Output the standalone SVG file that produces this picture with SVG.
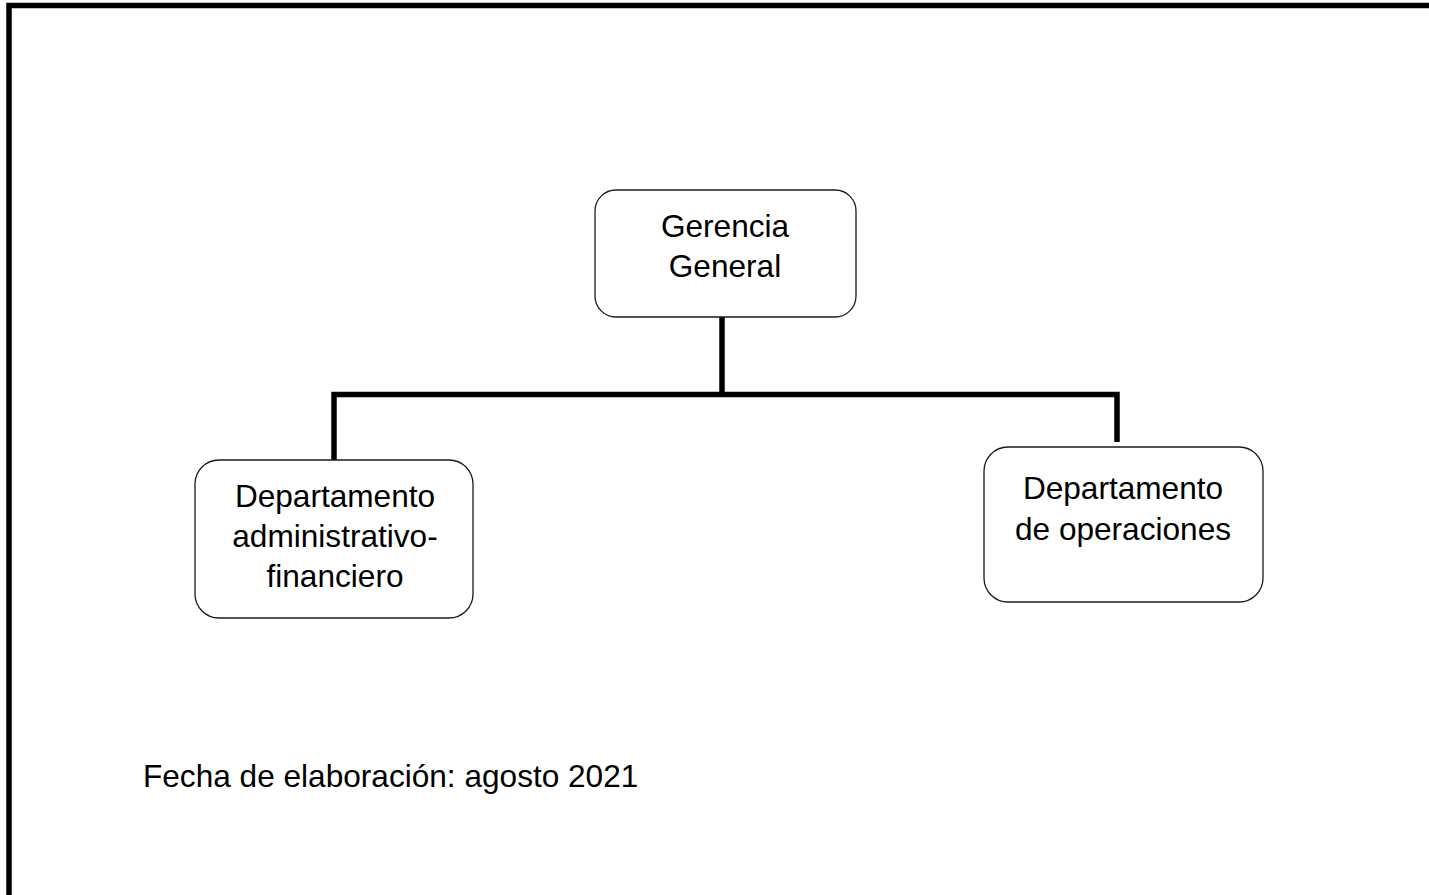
<svg xmlns="http://www.w3.org/2000/svg" width="1429" height="895" viewBox="0 0 1429 895">
<style>
.box{fill:#fff;stroke:#1a1a1a;stroke-width:1.3}
.t{font-family:"Liberation Sans",Arial,sans-serif;font-size:31.6px;fill:#000;text-anchor:middle}
.conn{fill:none;stroke:#000;stroke-width:5.5;stroke-linejoin:miter;stroke-linecap:butt}
</style>
<rect x="0" y="0" width="1429" height="895" fill="#fff"/>
<rect id="frame" x="9" y="5.5" width="1500" height="1000" fill="none" stroke="#000" stroke-width="5.5"/>
<g id="connectors">
<path class="conn" d="M722 317 V394.5"/>
<path class="conn" d="M334 460 V394.5 H1117 V442"/>
</g>
<g id="gerencia">
<rect class="box" x="595" y="190" width="261" height="127" rx="21"/>
<text class="t" x="725" y="237">Gerencia</text>
<text class="t" x="725" y="277">General</text>
</g>
<g id="admin">
<rect class="box" x="195" y="460" width="278" height="158" rx="24"/>
<text class="t" x="335" y="507">Departamento</text>
<text class="t" x="335" y="547">administrativo-</text>
<text class="t" x="335" y="587">financiero</text>
</g>
<g id="operaciones">
<rect class="box" x="984" y="447" width="279" height="155" rx="24"/>
<text class="t" x="1123" y="499">Departamento</text>
<text class="t" x="1123" y="540">de operaciones</text>
</g>
<text id="fecha" x="143" y="787" font-family="Liberation Sans, Arial, sans-serif" font-size="31.6" fill="#000">Fecha de elaboración: agosto 2021</text>
</svg>
